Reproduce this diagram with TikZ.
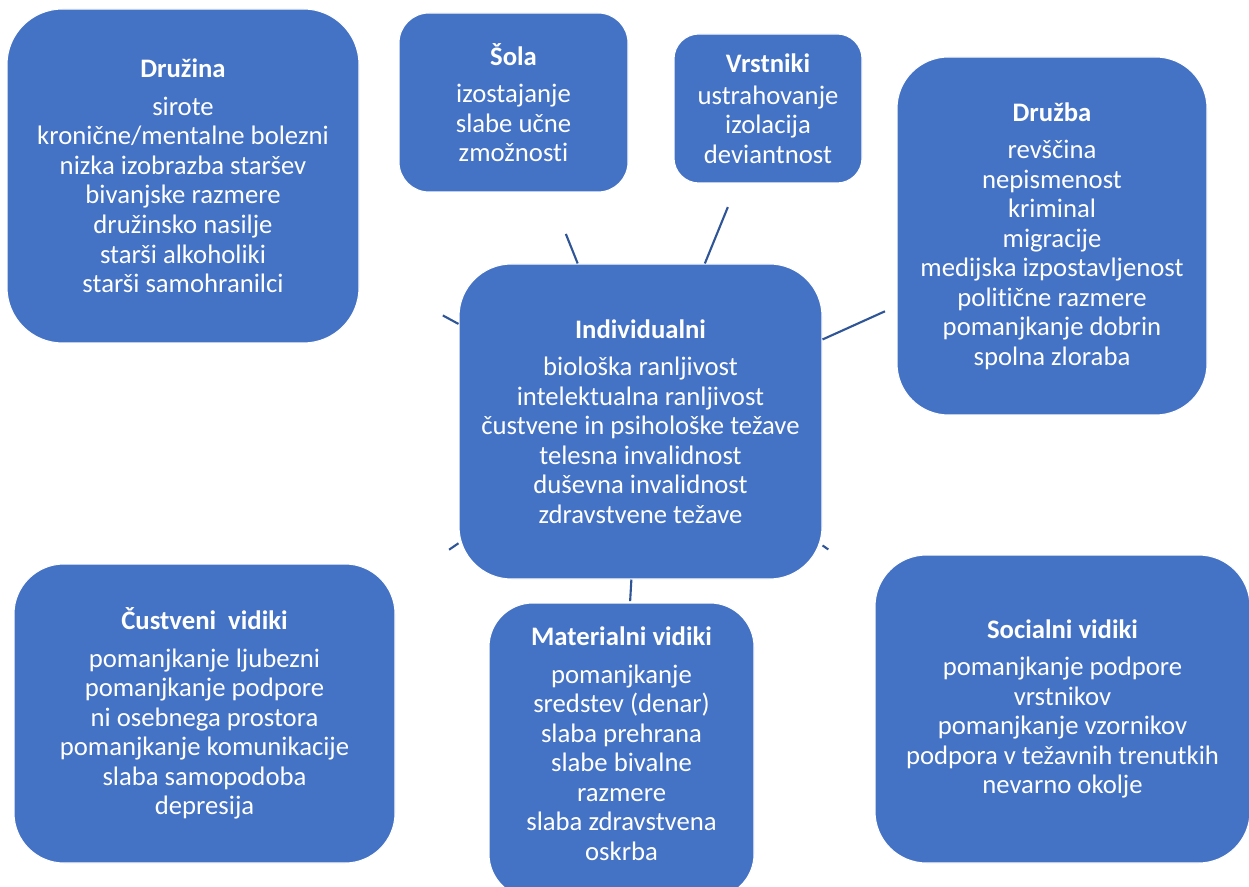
\documentclass[tikz,border=0pt]{standalone}
\usepackage{fontspec}
\setmainfont[Ligatures=NoCommon]{Carlito}
\usetikzlibrary{calc}
\definecolor{boxblue}{HTML}{4472C4}
\definecolor{spokeblue}{HTML}{2F5597}
\tikzset{
  box/.style={
    draw=white,
    line width=0.6pt,
    fill=boxblue,
    text=white,
    align=center,
    inner sep=0pt,
    font=\fontsize{15.2}{16.8}\selectfont
  },
  spoke/.style={draw=spokeblue, line width=1.2pt}
}
\newcommand{\boxhead}[1]{\textbf{#1}\\[4.5pt]}

\begin{document}
\begin{tikzpicture}
  \path[use as bounding box, fill=white] (0,0) rectangle (24.98,17.72);
  \node[box, minimum width=7.04cm, minimum height=6.68cm, rounded corners=1.11cm] (druzina) at (3.66,14.2)
    {\boxhead{Družina}sirote\\kronične/mentalne bolezni\\nizka izobrazba staršev\\bivanjske razmere\\družinsko nasilje\\starši alkoholiki\\starši samohranilci};
  \node[box, minimum width=4.58cm, minimum height=3.58cm, rounded corners=0.6cm] (sola) at (10.27,15.67)
    {\boxhead{Šola}izostajanje\\slabe učne\\zmožnosti};
  \node[box, minimum width=3.76cm, minimum height=2.98cm, rounded corners=0.5cm] (vrstniki) at (15.36,15.55)
    {\textbf{Vrstniki}\\[1.5pt]ustrahovanje\\izolacija\\deviantnost};
  \node[box, minimum width=6.2cm, minimum height=7.16cm, rounded corners=1.03cm] (druzba) at (21.04,13.0)
    {\boxhead{Družba}revščina\\nepismenost\\kriminal\\migracije\\medijska izpostavljenost\\politične razmere\\pomanjkanje dobrin\\spolna zloraba};
  \node[box, minimum width=7.26cm, minimum height=6.3cm, rounded corners=1.05cm] (ind) at (12.81,9.29)
    {\boxhead{Individualni}biološka ranljivost\\intelektualna ranljivost\\čustvene in psihološke težave\\telesna invalidnost\\duševna invalidnost\\zdravstvene težave};
  \node[box, minimum width=7.62cm, minimum height=5.98cm, rounded corners=1.0cm] (custveni) at (4.09,3.45)
    {\boxhead{Čustveni\ \ vidiki}pomanjkanje ljubezni\\pomanjkanje podpore\\ni osebnega prostora\\pomanjkanje komunikacije\\slaba samopodoba\\depresija};
  \node[box, minimum width=5.3cm, minimum height=5.9cm, rounded corners=0.88cm] (materialni) at (12.43,2.71)
    {\boxhead{Materialni vidiki}pomanjkanje\\sredstev (denar)\\slaba prehrana\\slabe bivalne\\razmere\\slaba zdravstvena\\oskrba\\[-9pt]};
  \node[box, minimum width=7.5cm, minimum height=6.16cm, rounded corners=1.03cm] (socialni) at (21.25,3.54)
    {\boxhead{Socialni vidiki}pomanjkanje podpore\\vrstnikov\\pomanjkanje vzornikov\\podpora v težavnih trenutkih\\nevarno okolje};
  \draw[spoke] (ind) -- ($(ind)!0.432!(druzina)$);
  \draw[spoke] (ind) -- ($(ind)!0.588!(sola)$);
  \draw[spoke] (ind) -- ($(ind)!0.685!(vrstniki)$);
  \draw[spoke] (ind) -- ($(ind)!0.594!(druzba)$);
  \draw[spoke] (ind) -- ($(ind)!0.439!(custveni)$);
  \draw[spoke] (ind) -- ($(ind)!0.546!(materialni)$);
  \draw[spoke] (ind) -- ($(ind)!0.445!(socialni)$);
\end{tikzpicture}
\end{document}
